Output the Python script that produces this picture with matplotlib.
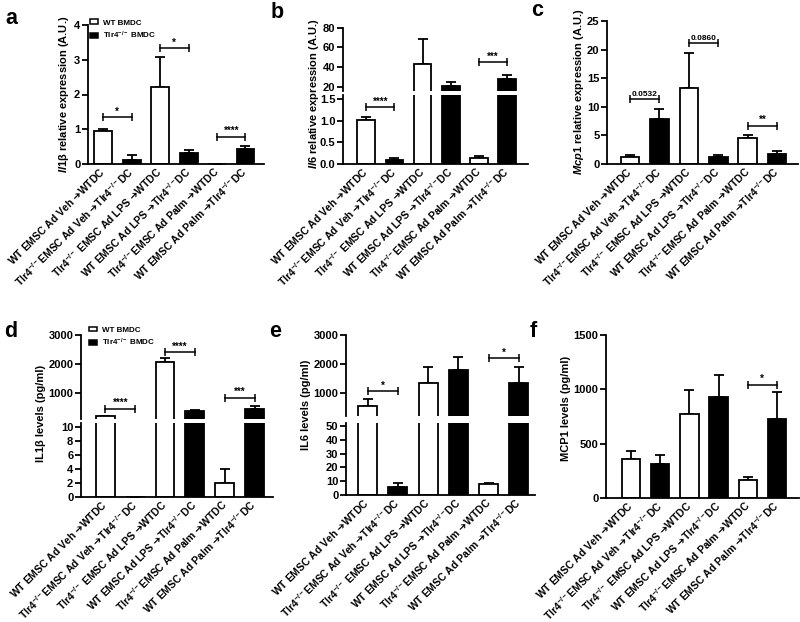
import matplotlib
matplotlib.use("Agg")
import matplotlib.pyplot as plt
from matplotlib.patches import Patch

plt.rcParams['font.family'] = ['Liberation Sans', 'DejaVu Sans']
plt.rcParams['font.weight'] = 'bold'
plt.rcParams['mathtext.fontset'] = 'custom'
plt.rcParams['mathtext.rm'] = 'Liberation Sans:bold'
plt.rcParams['mathtext.it'] = 'Liberation Sans:italic:bold'
plt.rcParams['mathtext.bf'] = 'Liberation Sans:bold'
plt.rcParams['mathtext.sf'] = 'DejaVu Sans'
plt.rcParams['mathtext.default'] = 'regular'

# ---------------- data ----------------
ARROW = r"$\mathsf{➔}$"
groups = ["WT EMSC Ad Veh " + ARROW + "WTDC",
          "Tlr4$^{-/-}$EMSC Ad Veh " + ARROW + "Tlr4$^{-/-}$DC",
          "Tlr4$^{-/-}$ EMSC Ad LPS " + ARROW + "WTDC",
          "WT EMSC Ad LPS " + ARROW + "Tlr4$^{-/-}$DC",
          "Tlr4$^{-/-}$EMSC Ad Palm " + ARROW + "WTDC",
          "WT EMSC Ad Palm " + ARROW + "Tlr4$^{-/-}$DC"]
bar_colors = ["white", "black", "white", "black", "white", "black"]
legend_labels = ["WT BMDC", "Tlr4$^{-/-}$ BMDC"]

a_vals = [0.94, 0.12, 2.23, 0.32, 0.01, 0.44]
a_err = [0.06, 0.14, 0.86, 0.09, 0.0, 0.07]
a_sig = [(0, 1, 1.34, "*"), (2, 3, 3.33, "*"), (4, 5, 0.79, "****")]

b_vals = [1.01, 0.09, 43.7, 21.0, 0.14, 28.2]
b_err = [0.07, 0.05, 24.5, 4.2, 0.04, 4.0]
b_sig = [(0, 1, 1.31, "****"), (4, 5, 45.4, "***")]

c_vals = [1.2, 7.9, 13.3, 1.15, 4.55, 1.7]
c_err = [0.4, 1.7, 6.1, 0.4, 0.5, 0.5]
c_sig = [(0, 1, 11.4, "0.0532"), (2, 3, 21.2, "0.0860"), (4, 5, 6.7, "**")]

d_vals = [190, 0, 2070, 360, 2, 460]
d_err = [15, 0, 130, 60, 2, 100]
d_sig = [(0, 1, 457, "****"), (2, 3, 2413, "****"), (4, 5, 837, "***")]

e_vals = [560, 6, 1345, 1800, 8, 1355]
e_err = [240, 2.5, 555, 445, 1, 545]
e_sig = [(0, 1, 1071, "*"), (4, 5, 2204, "*")]

f_vals = [362, 310, 773, 929, 169, 727]
f_err = [70, 83, 224, 206, 27, 248]
f_sig = [(4, 5, 1043, "*")]

# ---------------- helpers ----------------
W, H = 800, 622
fig = plt.figure(figsize=(W / 100, H / 100), dpi=100)

LW = 1.3
TICKFS = 8
XTICKFS = 7.5
BAR_W = 0.63


def ax_px(x0, x1, ytop, ybot):
    return fig.add_axes([x0 / W, 1 - ybot / H, (x1 - x0) / W, (ybot - ytop) / H])


def style(ax, bottom=True):
    for s in ["top", "right"]:
        ax.spines[s].set_visible(False)
    ax.spines["left"].set_linewidth(LW)
    ax.spines["bottom"].set_linewidth(LW)
    ax.tick_params(axis="y", width=LW, length=4, labelsize=TICKFS, pad=1.5)
    if bottom:
        ax.tick_params(axis="x", length=0, labelsize=XTICKFS, pad=4)
        ax.set_xticks(range(len(groups)))
        ax.set_xticklabels(groups, rotation=45, ha="right", va="center",
                           rotation_mode="anchor")
    else:
        ax.spines["bottom"].set_visible(False)
        ax.set_xticks([])


def draw_bars(ax, vals, errs, xlim):
    x = list(range(len(vals)))
    ax.bar(x, vals, width=BAR_W, color=bar_colors, edgecolor="black",
           linewidth=LW, zorder=2)
    ax.errorbar(x, vals, yerr=[[0] * len(errs), errs], fmt="none",
                ecolor="black", elinewidth=LW, capsize=3.3, capthick=LW,
                zorder=1)
    ax.set_xlim(*xlim)


def bracket(ax, i, j, y, txt):
    fs = 6 if txt[0].isdigit() else 7
    ax.plot([i, j], [y, y], color="black", lw=1.1, marker="|",
            markersize=5.5, mew=1.1, zorder=3, clip_on=False)
    ax.annotate(txt, ((i + j) / 2, y), xytext=(0, 0.3),
                textcoords="offset points", ha="center", va="bottom",
                fontsize=fs, fontweight="bold")


def brackets(axes, sigs):
    for (i, j, y, txt) in sigs:
        for ax in axes:
            lo, hi = ax.get_ylim()
            if lo <= y <= hi:
                bracket(ax, i, j, y, txt)
                break


def add_legend(ax, xy):
    handles = [Patch(facecolor="white", edgecolor="black", linewidth=1.1),
               Patch(facecolor="black", edgecolor="black", linewidth=1.1)]
    ax.legend(handles, legend_labels, loc="upper left", bbox_to_anchor=xy,
              frameon=False, fontsize=5.8, handlelength=1.0, handleheight=0.55,
              handletextpad=0.7, labelspacing=0.35, borderaxespad=0,
              borderpad=0)


def ylabel(x, y, txt):
    fig.text(x / W, 1 - y / H, txt, rotation=90, ha="center", va="center",
             fontsize=8, fontweight="bold")


def letter(x, y, txt):
    fig.text(x / W, 1 - y / H, txt, ha="left", va="baseline",
             fontsize=15.5, fontweight="bold")


# ---------------- panel a ----------------
ax = ax_px(88, 264, 25, 164)
draw_bars(ax, a_vals, a_err, (-0.53, 5.65))
ax.set_ylim(0, 4)
ax.set_yticks([0, 1, 2, 3, 4])
style(ax)
brackets([ax], a_sig)
add_legend(ax, (0.01, 1.04))
ylabel(64, 94, r"$\mathit{Il1}$β relative expression (A.U.)")
letter(5, 24, "a")

# ---------------- panel b ----------------
xl = (-0.83, 5.75)
axl = ax_px(343, 528, 94.7, 164)
draw_bars(axl, b_vals, b_err, xl)
axl.set_ylim(0, 1.6)
axl.set_yticks([0, 0.5, 1.0, 1.5])
axl.set_yticklabels(["0.0", "0.5", "1.0", "1.5"])
style(axl)
axu = ax_px(343, 528, 27.7, 91)
draw_bars(axu, b_vals, b_err, xl)
axu.set_ylim(16, 80)
axu.set_yticks([20, 40, 60, 80])
style(axu, bottom=False)
brackets([axl, axu], b_sig)
ylabel(314, 94, r"$\mathit{Il6}$ relative expression (A.U.)")
letter(271, 18, "b")

# ---------------- panel c ----------------
ax = ax_px(607, 798, 21, 164)
draw_bars(ax, c_vals, c_err, (-0.78, 5.71))
ax.set_ylim(0, 25)
ax.set_yticks([0, 5, 10, 15, 20, 25])
style(ax)
brackets([ax], c_sig)
ylabel(579, 92, r"$\mathit{Mcp1}$ relative expression (A.U.)")
letter(531, 16, "c")

# ---------------- panel d ----------------
xl = (-0.82, 5.62)
axl = ax_px(81, 273, 423, 497)
draw_bars(axl, d_vals, d_err, xl)
axl.set_ylim(0, 10.57)
axl.set_yticks([0, 2, 4, 6, 8, 10])
style(axl)
axu = ax_px(81, 273, 335, 419)
draw_bars(axu, d_vals, d_err, xl)
axu.set_ylim(100, 3000)
axu.set_yticks([1000, 2000, 3000])
style(axu, bottom=False)
brackets([axl, axu], d_sig)
add_legend(axu, (0.04, 1.10))
ylabel(41, 413, "IL1β levels (pg/ml)")
letter(4, 337, "d")

# ---------------- panel e ----------------
xl = (-0.71, 5.53)
axl = ax_px(346, 535, 423, 495)
draw_bars(axl, e_vals, e_err, xl)
axl.set_ylim(0, 52.2)
axl.set_yticks([0, 10, 20, 30, 40, 50])
style(axl)
axu = ax_px(346, 535, 335, 416)
draw_bars(axu, e_vals, e_err, xl)
axu.set_ylim(200, 3000)
axu.set_yticks([1000, 2000, 3000])
style(axu, bottom=False)
brackets([axl, axu], e_sig)
ylabel(306, 405, "IL6 levels (pg/ml)")
letter(269, 337, "e")

# ---------------- panel f ----------------
ax = ax_px(606, 799, 335, 498)
draw_bars(ax, f_vals, f_err, (-0.86, 5.76))
ax.set_ylim(0, 1500)
ax.set_yticks([0, 500, 1000, 1500])
style(ax)
brackets([ax], f_sig)
ylabel(566, 408, "MCP1 levels (pg/ml)")
letter(530, 337, "f")

fig.savefig("out.png", dpi=100)
